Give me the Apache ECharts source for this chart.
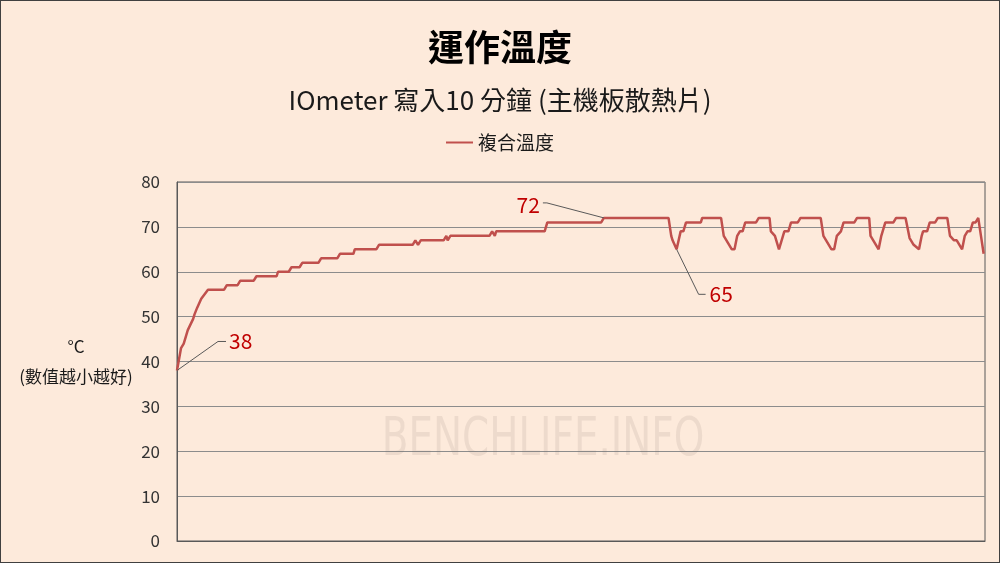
<!DOCTYPE html>
<html>
<head>
<meta charset="utf-8">
<script src="https://cdn.jsdelivr.net/npm/echarts@6/dist/echarts.min.js"></script>
<style>
  html, body { margin:0; padding:0; background:#fdeadb; }
  #wrap { position:relative; width:1000px; height:563px; }
  #c { width:1000px; height:563px; }
  #frame { position:absolute; left:0; top:0; width:1000px; height:563px; box-sizing:border-box; border:1px solid #404040; pointer-events:none; }
</style>
</head>
<body>
<div id="wrap"><div id="c"></div><div id="frame"></div></div>
<script>
// elapsed time (seconds, 0-600 = 10 minutes)
const times = [0,3,5,8,12,13,15,18,23,35,37,45,47,57,59,74,75,83,85,91,93,105,107,119,121,131,132,148,150,175,177,179,181,198,200,201,203,232,234,236,237,273,275,315,317,365,367,368,371,372,374,376,378,389,390,404,406,412,414,416,418,420,422,430,432,440,441,444,447,450,451,454,456,461,463,478,480,482,486,488,490,493,494,495,503,505,514,515,521,523,526,532,534,541,544,547,551,553,554,557,559,563,565,572,574,577,579,583,585,587,589,591,593,594,595,597,599];
// composite temperature (°C)
const temps = [38,43,44,47,49.5,50.5,52,54,56,56,57,57,58,58,59,59,60,60,61,61,62,62,63,63,64,64,65,65,66,66,67,66,67,67,68,67,68,68,69,68,69,69,71,71,72,72,68,67,65,65,69,69,71,71,72,72,68,65,65,68,69,69,71,71,72,72,69,68,65,68,69,69,71,71,72,72,68,67,65,65,68,69,69,71,71,72,72,68,65,68,71,71,72,72,67.5,66,65,68,69,69,71,71,72,72,68,67,67,65,68,69,69,71,71,71.5,72,68,64];
const seriesName = '複合溫度';
const titleText = '運作溫度';
const subTitleText = 'IOmeter 寫入10 分鐘 (主機板散熱片)';
const yAxisName = '°C\n(數值越小越好)';
// annotated points
const annoTimes = [0, 317, 371];
const annoTemps = [38, 72, 65];

const CJK = '"Noto Sans CJK TC", "Noto Sans", sans-serif';
const data = times.map((t, i) => [t, temps[i]]);

const chart = echarts.init(document.getElementById('c'), null, { renderer: 'canvas' });
chart.setOption({
  backgroundColor: '#fdeadb',
  animation: false,
  title: [
    { text: titleText, left: 'center', top: 24,
      textStyle: { fontFamily: CJK, fontSize: 36, fontWeight: 'bold', color: '#000' } },
    { text: subTitleText, left: 'center', top: 82,
      textStyle: { fontFamily: CJK, fontSize: 26, fontWeight: 'normal', color: '#1a1a1a' } }
  ],
  legend: {
    data: [{ name: seriesName, icon: 'rect' }], top: 128, left: 'center',
    itemWidth: 27, itemHeight: 2, itemGap: 4,
    textStyle: { fontFamily: CJK, fontSize: 19, color: '#1a1a1a' }
  },
  grid: { left: 177, right: 15, top: 182, bottom: 22, show: true, borderColor: '#595959', borderWidth: 1, containLabel: false },
  xAxis: {
    type: 'value', min: 0, max: 600,
    axisLine: { show: true, lineStyle: { color: '#595959' } },
    axisTick: { show: false }, axisLabel: { show: false }, splitLine: { show: false }
  },
  yAxis: {
    type: 'value', min: 0, max: 80, interval: 10,
    name: yAxisName, nameLocation: 'middle', nameRotate: 0, nameGap: 101,
    nameTextStyle: { fontFamily: CJK, fontSize: 17, color: '#1a1a1a', lineHeight: 30, align: 'center', verticalAlign: 'middle' },
    axisLine: { show: true, lineStyle: { color: '#595959' } },
    axisTick: { show: false },
    axisLabel: { fontFamily: CJK, fontSize: 17, color: '#333', margin: 17 },
    splitLine: { show: true, lineStyle: { color: '#8c8c8c', width: 1 } }
  },
  series: [{
    name: seriesName, type: 'line', data: data,
    symbol: 'none', smooth: false,
    lineStyle: { color: '#c0504d', width: 2.5 },
    itemStyle: { color: '#c0504d' }
  }]
});

// annotation leader lines + labels, anchored via the chart's own scales
const leaderOffsets = [
  { mid: [41, -29], end: [49, -29], text: [52, -29], align: 'left' },
  { mid: [-57, -15], end: [-61, -15], text: [-64, -13], align: 'right' },
  { mid: [22, 45], end: [29, 45], text: [33, 45], align: 'left' }
];
const graphics = [];
annoTimes.forEach((t, i) => {
  const p = chart.convertToPixel({ seriesIndex: 0 }, [t, annoTemps[i]]);
  const o = leaderOffsets[i];
  graphics.push({
    type: 'polyline', silent: true, z: 10,
    shape: { points: [[p[0], p[1]], [p[0] + o.mid[0], p[1] + o.mid[1]], [p[0] + o.end[0], p[1] + o.end[1]]] },
    style: { stroke: '#595959', lineWidth: 1, fill: null }
  });
  graphics.push({
    type: 'text', silent: true, z: 10,
    x: p[0] + o.text[0], y: p[1] + o.text[1],
    style: { text: String(annoTemps[i]), fill: '#c00000', font: '21px ' + CJK, align: o.align, verticalAlign: 'middle' }
  });
});
// watermark
graphics.push({
  type: 'text', silent: true, z: 0,
  x: 543, y: 441, scaleX: 0.8,
  style: { text: 'BENCHLIFE.INFO', fill: 'rgba(120,110,100,0.12)', font: '54px "Liberation Sans Narrow", "DejaVu Sans Condensed", sans-serif', align: 'center', verticalAlign: 'middle' }
});
chart.setOption({ graphic: graphics });
</script>
</body>
</html>
